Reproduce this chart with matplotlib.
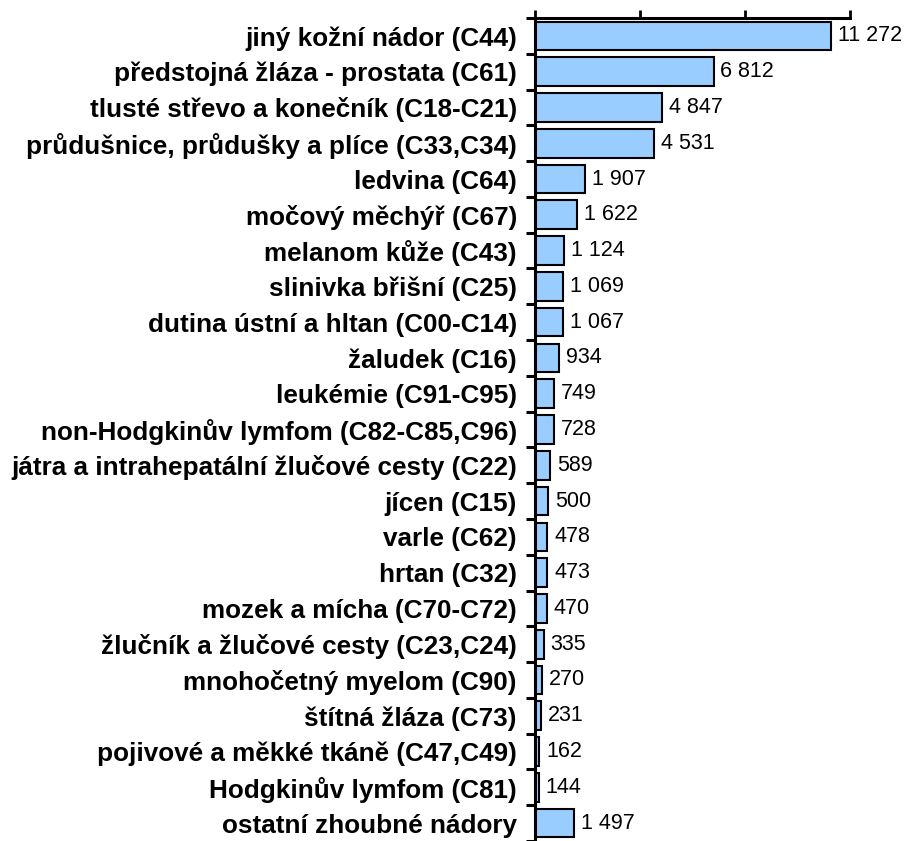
import matplotlib.pyplot as plt

categories = [
    "jiný kožní nádor (C44)",
    "předstojná žláza - prostata (C61)",
    "tlusté střevo a konečník (C18-C21)",
    "průdušnice, průdušky a plíce (C33,C34)",
    "ledvina (C64)",
    "močový měchýř (C67)",
    "melanom kůže (C43)",
    "slinivka břišní (C25)",
    "dutina ústní a hltan (C00-C14)",
    "žaludek (C16)",
    "leukémie (C91-C95)",
    "non-Hodgkinův lymfom (C82-C85,C96)",
    "játra a intrahepatální žlučové cesty (C22)",
    "jícen (C15)",
    "varle (C62)",
    "hrtan (C32)",
    "mozek a mícha (C70-C72)",
    "žlučník a žlučové cesty (C23,C24)",
    "mnohočetný myelom (C90)",
    "štítná žláza (C73)",
    "pojivové a měkké tkáně (C47,C49)",
    "Hodgkinův lymfom (C81)",
    "ostatní zhoubné nádory",
]
values = [11272, 6812, 4847, 4531, 1907, 1622, 1124, 1069, 1067, 934, 749,
          728, 589, 500, 478, 473, 470, 335, 270, 231, 162, 144, 1497]
x_ticks = [0, 4000, 8000, 12000]

plt.rcParams["font.family"] = ["Liberation Sans", "DejaVu Sans"]

fig = plt.figure(figsize=(9.08, 8.41), dpi=100)
ax = fig.add_axes([0.589, 0.0, 0.347, 0.9786])

n = len(categories)
pos = list(range(n))
ax.barh(pos, values, height=0.8, color="#99CCFF", edgecolor="black", linewidth=1.5)

for y, v in zip(pos, values):
    ax.text(v + 260, y, f"{v:,}".replace(",", " "), va="center", ha="left",
            fontsize=15.5)

ax.set_ylim(n - 0.5, -0.5)
ax.set_xlim(0, 12000)

ax.xaxis.tick_top()
ax.set_xticks(x_ticks)
ax.set_xticklabels([])
ax.tick_params(axis="x", direction="out", length=6, width=2)

ax.set_yticks([p - 0.5 for p in pos] + [n - 0.5])
ax.set_yticklabels([])
ax.set_yticks(pos, minor=True)
ax.set_yticklabels(categories, minor=True, fontsize=18.8, fontweight="bold")
ax.tick_params(axis="y", which="major", direction="out", length=6.5, width=2.2)
ax.tick_params(axis="y", which="minor", length=0, pad=13)

for s in ["right", "bottom"]:
    ax.spines[s].set_visible(False)
for s in ["top", "left"]:
    ax.spines[s].set_linewidth(2.2)

fig.savefig("out.png", dpi=100)
